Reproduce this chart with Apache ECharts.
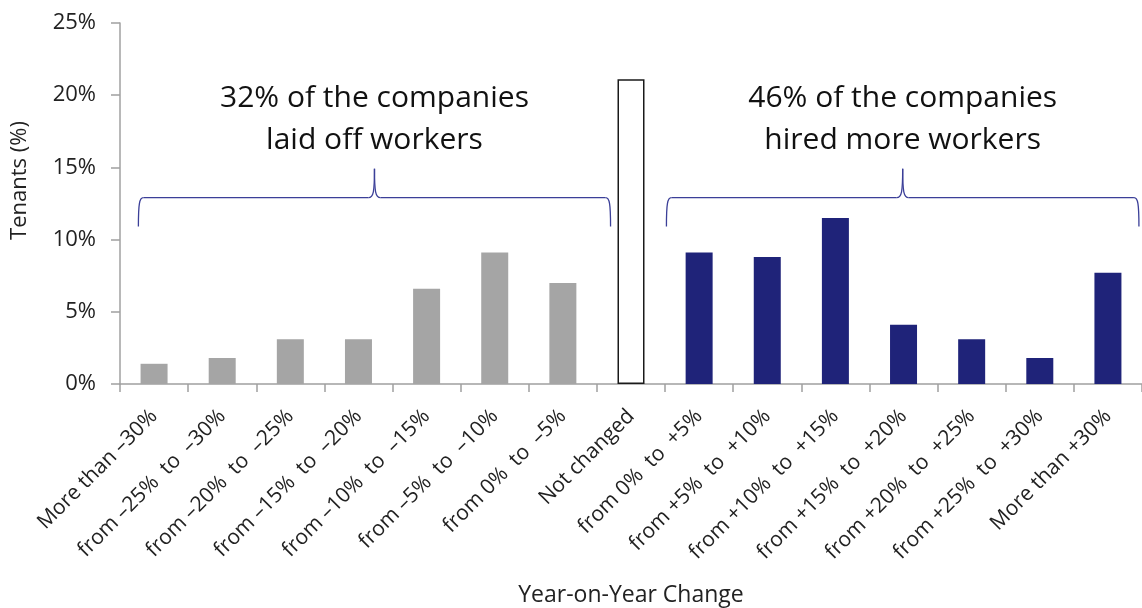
<!DOCTYPE html>
<html><head><meta charset="utf-8">
<script src="https://cdn.jsdelivr.net/npm/echarts@6/dist/echarts.min.js"></script>
<style>html,body{margin:0;padding:0;background:#fff}#c{width:1142px;height:608px}</style>
</head><body><div id="c"></div>
<script>
// ---- data ----
const categories = [
  'More than \u201330%', 'from \u201325%  to  \u201330%', 'from \u201320%  to  \u201325%',
  'from \u201315%  to  \u201320%', 'from \u201310%  to  \u201315%', 'from \u20135%  to  \u201310%',
  'from 0%  to  \u20135%', 'Not changed',
  'from 0%  to  +5%', 'from +5%  to  +10%', 'from +10%  to  +15%', 'from +15%  to  +20%',
  'from +20%  to  +25%', 'from +25%  to  +30%', 'More than +30%'
];
const tenantsPct = [1.4, 1.8, 3.1, 3.1, 6.6, 9.1, 7.0, 21.1, 9.1, 8.8, 11.5, 4.1, 3.1, 1.8, 7.7];
const barGroup = ['down','down','down','down','down','down','down','flat','up','up','up','up','up','up','up'];
const yAxisTicks = [0, 5, 10, 15, 20, 25];
const groupNotes = [
  ['32% of the companies', 'laid off workers'],
  ['46% of the companies', 'hired more workers']
];
const yAxisName = 'Tenants (%)';
const xAxisName = 'Year-on-Year Change';

// ---- styles ----
const groupStyle = {
  down: { color: '#a5a5a5' },
  flat: { color: '#ffffff', borderColor: '#1a1a1a', borderWidth: 1.5 },
  up:   { color: '#1f2379' }
};
const FONT = '"Open Sans", "Noto Sans", sans-serif';

const chart = echarts.init(document.getElementById('c'), null, { renderer: 'canvas' });
const option = {
  animation: false,
  backgroundColor: '#fff',
  grid: { left: 120, right: 0, top: 23, bottom: 224, containLabel: false, outerBoundsMode: 'none' },
  xAxis: {
    type: 'category',
    data: categories,
    boundaryGap: true,
    name: xAxisName,
    nameLocation: 'middle',
    nameGap: 200,
    nameTextStyle: { fontFamily: FONT, fontSize: 23, color: '#222' },
    axisLine: { lineStyle: { color: '#a0a0a0', width: 1.5 } },
    axisTick: { show: true, length: 8, lineStyle: { color: '#a0a0a0', width: 1.5 } },
    axisLabel: { interval: 0, rotate: 45, margin: 29, fontFamily: FONT, fontSize: 21, color: '#222' }
  },
  yAxis: {
    type: 'value',
    min: yAxisTicks[0],
    max: yAxisTicks[yAxisTicks.length - 1],
    interval: yAxisTicks[1] - yAxisTicks[0],
    name: yAxisName,
    nameLocation: 'middle',
    nameRotate: 90,
    nameGap: 89,
    nameTextStyle: { fontFamily: FONT, fontSize: 22, color: '#222', padding: [0, 0, 0, 46] },
    axisLine: { show: true, lineStyle: { color: '#a0a0a0', width: 1.5 } },
    axisTick: { show: true, length: 9, lineStyle: { color: '#a0a0a0', width: 1.5 } },
    splitLine: { show: false },
    axisLabel: { formatter: '{value}%', margin: 24, fontFamily: FONT, fontSize: 22, color: '#222' }
  },
  series: [{
    type: 'bar',
    barWidth: 27,
    data: tenantsPct.map((v, i) => ({ value: v, itemStyle: groupStyle[barGroup[i]] }))
  }]
};
chart.setOption(option);

// ---- annotation brackets, positioned through the axes ----
function catX(pos) {
  const a = chart.convertToPixel({ xAxisIndex: 0 }, 0);
  const b = chart.convertToPixel({ xAxisIndex: 0 }, 1);
  return a + pos * (b - a);
}
function valY(v) { return chart.convertToPixel({ yAxisIndex: 0 }, v); }

const lineStyle = { fill: null, stroke: '#3b3f98', lineWidth: 1.3 };
function curve(x1, y1, c1x, c1y, c2x, c2y, x2, y2) {
  return { type: 'bezierCurve', shape: { x1, y1, x2, y2, cpx1: c1x, cpy1: c1y, cpx2: c2x, cpy2: c2y }, style: lineStyle };
}
function seg(x1, y1, x2, y2) {
  return { type: 'line', shape: { x1, y1, x2, y2 }, style: lineStyle };
}
function bracket(xl, xr, yEnd, yLine, yPeak) {
  const xm = (xl + xr) / 2;
  return [
    curve(xl, yEnd, xl, yLine + 6, xl + 1, yLine, xl + 5, yLine),
    seg(xl + 5, yLine, xm - 6, yLine),
    curve(xm - 6, yLine, xm - 1, yLine, xm, yLine - 6, xm, yPeak),
    curve(xm, yPeak, xm, yLine - 6, xm + 1, yLine, xm + 6, yLine),
    seg(xm + 6, yLine, xr - 5, yLine),
    curve(xr - 5, yLine, xr - 1, yLine, xr, yLine + 6, xr, yEnd)
  ];
}

const spans = [[-0.23, 6.7], [7.52, 14.455]];
let graphics = [];
spans.forEach((s, k) => {
  const xl = catX(s[0]), xr = catX(s[1]);
  const xm = (xl + xr) / 2;
  graphics = graphics.concat(bracket(xl, xr, valY(10.9), valY(12.9), valY(14.9)));
  graphics.push({
    type: 'text', x: xm, y: valY(19.76),
    style: { text: groupNotes[k][0], fontFamily: FONT, fontSize: 30, fill: '#111', align: 'center', verticalAlign: 'middle' }
  });
  graphics.push({
    type: 'text', x: xm, y: valY(16.85),
    style: { text: groupNotes[k][1], fontFamily: FONT, fontSize: 30, fill: '#111', align: 'center', verticalAlign: 'middle' }
  });
});
chart.setOption({ graphic: graphics });
</script>
</body></html>
